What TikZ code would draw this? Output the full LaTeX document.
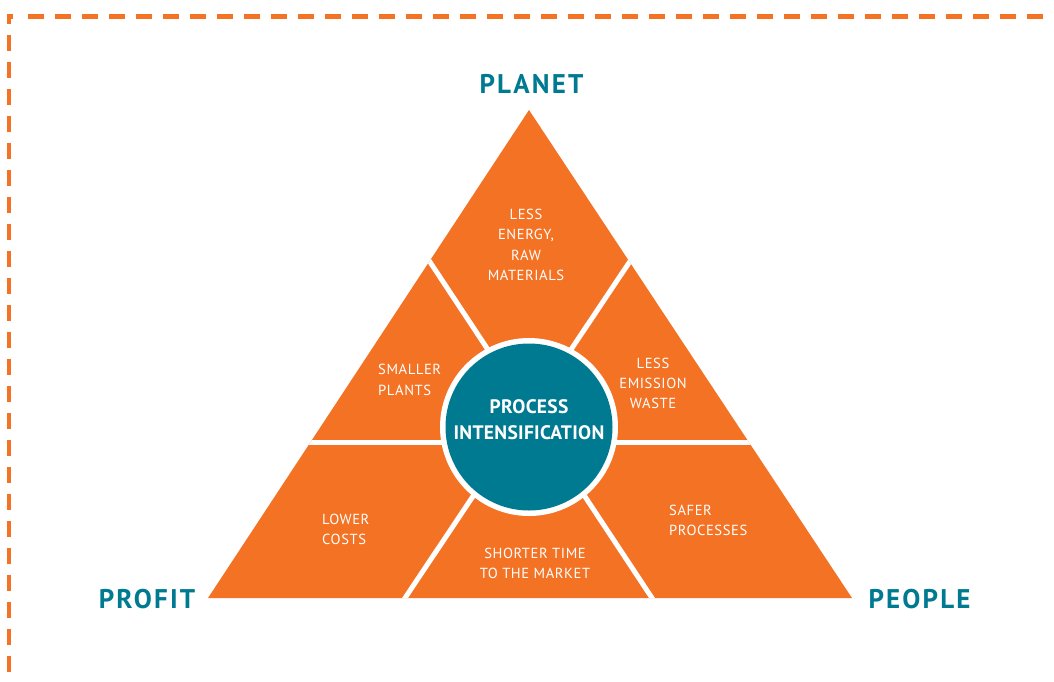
\documentclass[tikz,border=0pt]{standalone}
\usepackage{fontspec}
\setmainfont{PT Sans}[LetterSpace=4]
\newfontfamily\headfont{PT Sans}[LetterSpace=8]
\newfontfamily\midfont{PT Sans}[LetterSpace=1.5]
\usetikzlibrary{calc}
\definecolor{piorange}{HTML}{F37224}
\definecolor{piteal}{HTML}{007A91}
\tikzset{
  sep/.style={white,line width=5pt},
  small/.style={text=white,font=\fontsize{14.6}{20.3}\selectfont,inner sep=0pt},
  corner/.style={text=piteal,font=\headfont\bfseries\fontsize{27}{27}\selectfont,inner sep=0pt},
  center/.style={text=white,font=\midfont\bfseries\fontsize{19.5}{26}\selectfont,inner sep=0pt,align=center},
  border/.style={piorange,line width=4.5pt,dash pattern=on 16pt off 11pt}
}
\begin{document}
\begin{tikzpicture}[x=1pt,y=-1pt]
\useasboundingbox (0,0) rectangle (1054,681);
% border
\coordinate (c0) at (9,16.5);
\coordinate (ctop) at (28,16.5);
\coordinate (cleft) at (9,35);
\coordinate (tend) at (1054,16.5);
\coordinate (lend) at (9,681);
\draw[piorange,line width=4.5pt] (9,24) -- (c0) -- (12.5,16.5);
\draw[border] (ctop) -- (tend);
\draw[border] (cleft) -- (lend);
% triangle
\coordinate (A) at (529,110);
\coordinate (BL) at (208,598);
\coordinate (BR) at (852,598);
\coordinate (L1) at (430,262);
\coordinate (R1) at (629.5,262);
\coordinate (HL) at (311,442);
\coordinate (HR) at (748,442);
\coordinate (B1) at (405,598);
\coordinate (B2) at (652,598);
\coordinate (O) at (529,427);
\fill[piorange] (A) -- (BL) -- (BR) -- cycle;
\begin{scope}
\clip (A) -- (BL) -- (BR) -- cycle;
\draw[sep] ($(L1)!-0.05!(B2)$) -- ($(L1)!1.05!(B2)$);
\draw[sep] ($(R1)!-0.05!(B1)$) -- ($(R1)!1.05!(B1)$);
\draw[sep] ($(HL)!-0.05!(HR)$) -- ($(HL)!1.05!(HR)$);
\end{scope}
\fill[white] (O) circle (89);
\fill[piteal] (O) circle (83.5);
% labels
\node[corner] (planet) at (531.5,84) {PLANET};
\node[corner] (profit) at (147,599) {PROFIT};
\node[corner] (people) at (919.5,599) {PEOPLE};
\node[center] (pi) at (529,420) {PROCESS\\INTENSIFICATION};
\node[small,align=center] (energy) at (526,245) {LESS\\ENERGY,\\RAW\\MATERIALS};
\node[small,align=left,anchor=west] (plants) at (378,380) {SMALLER\\PLANTS};
\node[small,align=center] (emission) at (653,383.5) {LESS\\EMISSION\\WASTE};
\node[small,align=left,anchor=west] (costs) at (322,529.5) {LOWER\\COSTS};
\node[small,align=center] (market) at (535,563.5) {SHORTER TIME\\TO THE MARKET};
\node[small,align=left,anchor=west] (safer) at (669,520.5) {SAFER\\PROCESSES};
\end{tikzpicture}
\end{document}
